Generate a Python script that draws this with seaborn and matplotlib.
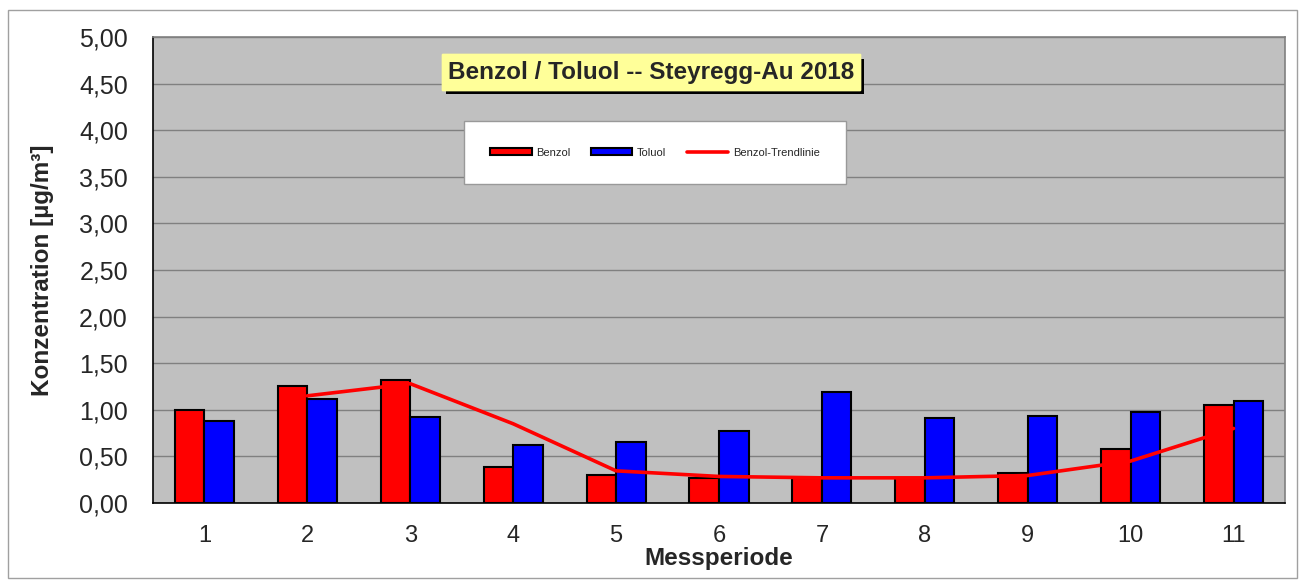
import numpy as np
import pandas as pd
import matplotlib
matplotlib.use("Agg")
import matplotlib.pyplot as plt
import matplotlib.patheffects as pe
from matplotlib.patches import Rectangle
from matplotlib.ticker import FuncFormatter, FixedLocator
import seaborn as sns

# ---- data ----
perioden = [1, 2, 3, 4, 5, 6, 7, 8, 9, 10, 11]
benzol = [1.00, 1.255, 1.32, 0.39, 0.30, 0.27, 0.27, 0.27, 0.32, 0.58, 1.05]
toluol = [0.88, 1.12, 0.92, 0.62, 0.65, 0.77, 1.19, 0.91, 0.93, 0.98, 1.09]
trend_perioden = [2, 3, 4, 5, 6, 7, 8, 9, 10, 11]
benzol_trend = [1.15, 1.28, 0.85, 0.345, 0.285, 0.27, 0.27, 0.295, 0.45, 0.80]
y_ticks = [0.0, 0.5, 1.0, 1.5, 2.0, 2.5, 3.0, 3.5, 4.0, 4.5, 5.0]
title_text = "Benzol / Toluol -- Steyregg-Au 2018"
x_label = "Messperiode"
y_label = "Konzentration [µg/m³]"

df = pd.DataFrame({
    "Messperiode": perioden * 2,
    "Wert": benzol + toluol,
    "Stoff": ["Benzol"] * len(benzol) + ["Toluol"] * len(toluol),
})
df_trend = pd.DataFrame({"Messperiode": trend_perioden, "Wert": benzol_trend})

sns.set_style("white")
plt.rcParams["font.family"] = ["Liberation Sans", "DejaVu Sans"]

fig = plt.figure(figsize=(13, 5.81), dpi=100)
ax = fig.add_axes([153 / 1300, 1 - 503 / 581, (1285 - 153) / 1300, (503 - 37) / 581])
ax.set_facecolor("#C0C0C0")

sns.barplot(data=df, x="Messperiode", y="Wert", hue="Stoff", native_scale=True,
            palette={"Benzol": "#FF0000", "Toluol": "#0000FF"}, width=0.575,
            edgecolor="black", linewidth=1.5, saturation=1, ax=ax, zorder=3,
            errorbar=None)
sns.lineplot(data=df_trend, x="Messperiode", y="Wert", color="#FF0000", linewidth=2.6,
             ax=ax, zorder=4, label="Benzol-Trendlinie")

ax.set_xlim(0.5, 11.5)
ax.set_ylim(0, 5)
ax.yaxis.set_major_locator(FixedLocator(y_ticks))
ax.yaxis.set_major_formatter(FuncFormatter(lambda v, p: f"{v:.2f}".replace(".", ",")))
ax.grid(axis="y", color="#808080", linewidth=1.0, zorder=0)
ax.set_axisbelow(True)

# x: tick marks at boundaries, labels at centres
ax.set_xticks([p - 0.5 for p in perioden] + [perioden[-1] + 0.5])
ax.set_xticklabels([])
ax.set_xticks(perioden, minor=True)
ax.set_xticklabels([str(p) for p in perioden], minor=True)
ax.tick_params(axis="x", which="major", direction="out", length=6, color="#808080", width=1)
ax.tick_params(axis="x", which="minor", length=0, pad=16, labelsize=17)
ax.tick_params(axis="y", which="major", direction="out", length=6, color="#808080",
               width=1, labelsize=18, pad=12)

ax.set_xlabel(x_label, fontsize=17.5, fontweight="bold", labelpad=0)
ax.set_ylabel(y_label, fontsize=17.5, fontweight="bold", labelpad=18)

for s in ["left", "bottom"]:
    ax.spines[s].set_color("black")
    ax.spines[s].set_linewidth(1.2)
for s in ["top", "right"]:
    ax.spines[s].set_color("#808080")
    ax.spines[s].set_linewidth(1.2)

handles, labels = ax.get_legend_handles_labels()
leg = ax.legend(handles, labels, loc="center", bbox_to_anchor=(0.4435, 0.752), ncol=3,
                fontsize=8, frameon=True, fancybox=False, edgecolor="#999999",
                handlelength=3.7, handleheight=0.6, handletextpad=0.4,
                columnspacing=1.9, borderpad=2.4, borderaxespad=0)
leg.get_frame().set_linewidth(1.0)
leg.get_frame().set_facecolor("white")
leg.get_frame().set_alpha(1)
leg.set_zorder(6)
for h in leg.legend_handles:
    if hasattr(h, "set_edgecolor") and not isinstance(h, matplotlib.lines.Line2D):
        h.set_edgecolor("black")
        h.set_linewidth(1.5)

t = fig.text(651 / 1300, 1 - 72 / 581, title_text, fontsize=17.5, fontweight="bold",
             ha="center", va="center", zorder=10,
             bbox=dict(boxstyle="square,pad=0.25", facecolor="#FFFF99", edgecolor="#FFFF99"))
t.get_bbox_patch().set_path_effects([
    pe.withSimplePatchShadow(offset=(3, -3), shadow_rgbFace="black", alpha=1),
    pe.Normal()])

fig.patches.append(Rectangle((8 / 1300, 1 - 578 / 581), (1297 - 8) / 1300, (578 - 10) / 581,
                             transform=fig.transFigure, fill=False, edgecolor="#A0A0A0",
                             linewidth=1.0, zorder=0))

fig.savefig("out.png", dpi=100, facecolor="white")
